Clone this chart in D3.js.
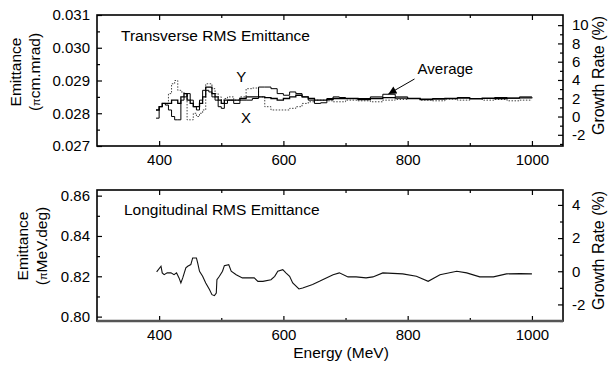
<!DOCTYPE html>
<html>
<head>
<meta charset="utf-8">
<script src="https://cdn.jsdelivr.net/npm/d3@7"></script>
<style>
  body { margin: 0; background: #fff; }
  text { font-family: "Liberation Sans", Arial, sans-serif; fill: #000; }
</style>
</head>
<body>
<div id="chart"></div>
<script>
// Data: transverse panel (shared energy grid for X, Y and Average)
var topEnergy = [395, 400, 405, 410, 415, 420, 425, 430, 435, 440, 445, 450, 455, 460, 465, 470, 475, 480, 485, 490,
  495, 500, 505, 510, 515, 520, 530, 540, 550, 560, 570, 580, 590, 600, 610, 620, 630, 640, 650, 660,
  670, 680, 690, 700, 720, 740, 760, 780, 800, 820, 840, 860, 880, 900, 920, 940, 960, 980, 1000];

var emitX = [0.02785, 0.02820, 0.02830, 0.02825, 0.02810, 0.02790, 0.02780, 0.02780, 0.02840, 0.02850,
  0.02860, 0.02840, 0.02820, 0.02810, 0.02840, 0.02870, 0.02870, 0.02865, 0.02850, 0.02840,
  0.02820, 0.02815, 0.02830, 0.02840, 0.02840, 0.02830, 0.02840, 0.02840, 0.02845, 0.02880,
  0.02880, 0.02875, 0.02860, 0.02855, 0.02865, 0.02860, 0.02850, 0.02840, 0.02830, 0.02832,
  0.02845, 0.02850, 0.02848, 0.02845, 0.02845, 0.02850, 0.02858, 0.02850, 0.02845, 0.02843,
  0.02845, 0.02845, 0.02848, 0.02845, 0.02845, 0.02848, 0.02846, 0.02850, 0.02850];

var emitY = [0.02810, 0.02820, 0.02830, 0.02830, 0.02860, 0.02890, 0.02900, 0.02870, 0.02865, 0.02860,
  0.02780, 0.02780, 0.02800, 0.02790, 0.02800, 0.02810, 0.02890, 0.02890, 0.02875, 0.02860,
  0.02850, 0.02840, 0.02845, 0.02850, 0.02850, 0.02840, 0.02850, 0.02875, 0.02877, 0.02850,
  0.02820, 0.02810, 0.02810, 0.02810, 0.02815, 0.02820, 0.02830, 0.02835, 0.02840, 0.02840,
  0.02838, 0.02835, 0.02835, 0.02840, 0.02838, 0.02835, 0.02840, 0.02842, 0.02845, 0.02840,
  0.02838, 0.02843, 0.02840, 0.02845, 0.02840, 0.02842, 0.02838, 0.02840, 0.02840];

var emitAvg = [0.02810, 0.02820, 0.02830, 0.02830, 0.02830, 0.02840, 0.02840, 0.02830, 0.02850, 0.02860,
  0.02840, 0.02830, 0.02820, 0.02820, 0.02830, 0.02850, 0.02880, 0.02880, 0.02860, 0.02850,
  0.02840, 0.02830, 0.02840, 0.02840, 0.02840, 0.02840, 0.02845, 0.02850, 0.02850, 0.02850,
  0.02848, 0.02845, 0.02840, 0.02845, 0.02850, 0.02855, 0.02850, 0.02845, 0.02840, 0.02840,
  0.02842, 0.02845, 0.02845, 0.02845, 0.02842, 0.02845, 0.02848, 0.02846, 0.02845, 0.02842,
  0.02843, 0.02845, 0.02846, 0.02844, 0.02846, 0.02845, 0.02846, 0.02847, 0.02846];

// Data: longitudinal panel
var longEnergy = [396, 403, 405, 408, 413, 419, 424, 428, 432, 435, 438, 443, 446, 451, 454, 460, 462, 465, 470, 475,
  481, 485, 489, 492, 493, 497, 502, 505, 512, 516, 524, 534, 545, 553, 559, 567, 580, 586, 591, 599,
  604, 610, 615, 625, 631, 647, 658, 669, 680, 690, 704, 717, 733, 744, 760, 792, 814, 833, 852, 879,
  895, 916, 938, 959, 981, 1000];
var longEmit = [0.8222, 0.8250, 0.8217, 0.8208, 0.8217, 0.8217, 0.8208, 0.8217, 0.8192, 0.8167,
  0.8192, 0.8242, 0.8250, 0.8258, 0.8291, 0.8291, 0.8266, 0.8225, 0.8200, 0.8167,
  0.8134, 0.8109, 0.8104, 0.8117, 0.8183, 0.8200, 0.8225, 0.8253, 0.8258, 0.8225,
  0.8208, 0.8192, 0.8192, 0.8192, 0.8175, 0.8175, 0.8183, 0.8200, 0.8225, 0.8233,
  0.8217, 0.8200, 0.8167, 0.8137, 0.8142, 0.8159, 0.8175, 0.8192, 0.8208, 0.8217,
  0.8197, 0.8197, 0.8192, 0.8197, 0.8217, 0.8212, 0.8200, 0.8175, 0.8208, 0.8225,
  0.8217, 0.8197, 0.8197, 0.8212, 0.8213, 0.8212];

// Tick values
var energyTicks = [400, 600, 800, 1000];
var energyMinor = [500, 700, 900];
var transTicks = [0.027, 0.028, 0.029, 0.030, 0.031];
var transMinor = [0.0275, 0.0285, 0.0295, 0.0305];
var longTicks = [0.80, 0.82, 0.84, 0.86];
var longMinor = [0.81, 0.83, 0.85];
var transGrowthTicks = [-2, 0, 2, 4, 6, 8, 10];
var transGrowthMinor = [-3, -1, 1, 3, 5, 7, 9];
var longGrowthTicks = [-2, 0, 2, 4];
var longGrowthMinor = [-3, -1, 1, 3];

// reference emittance for the growth rate axes
var transRef = 0.0279;
var longRef = 0.8225;

// Chart layout
var width = 608;
var height = 368;
var left = 97, right = 563;
var fontStack = "'Liberation Sans', Arial, sans-serif";

var svg = d3.select("#chart").append("svg")
  .attr("width", width)
  .attr("height", height);

var xScale = d3.scaleLinear().domain([300, 1050]).range([left, right]);

// plain integer labels with an ascii minus, like the original plot
function plainInt(d) { return String(d); }

// draws the frame with inward ticks on all four sides
function drawPanel(top, bottom, yScale, yTicks, yMinor, yFmt, gScale, gTicks, gMinor) {
  var g = svg.append("g");

  // x axis at the bottom
  g.append("g").attr("transform", "translate(0," + bottom + ")")
    .call(d3.axisBottom(xScale).tickValues(energyTicks).tickFormat(plainInt)
      .tickSizeInner(-5).tickSizeOuter(0).tickPadding(8));
  g.append("g").attr("transform", "translate(0," + bottom + ")")
    .call(d3.axisBottom(xScale).tickValues(energyMinor).tickSize(-3).tickFormat(""));
  // x ticks at the top, no labels
  g.append("g").attr("transform", "translate(0," + top + ")")
    .call(d3.axisTop(xScale).tickValues(energyTicks).tickSize(-5).tickFormat(""));
  g.append("g").attr("transform", "translate(0," + top + ")")
    .call(d3.axisTop(xScale).tickValues(energyMinor).tickSize(-3).tickFormat(""));

  // left emittance axis
  g.append("g").attr("transform", "translate(" + left + ",0)")
    .call(d3.axisLeft(yScale).tickValues(yTicks).tickFormat(d3.format(yFmt))
      .tickSizeInner(-5).tickSizeOuter(0).tickPadding(7));
  g.append("g").attr("transform", "translate(" + left + ",0)")
    .call(d3.axisLeft(yScale).tickValues(yMinor).tickSize(-3).tickFormat(""));

  // right growth rate axis
  g.append("g").attr("transform", "translate(" + right + ",0)")
    .call(d3.axisRight(gScale).tickValues(gTicks).tickFormat(plainInt)
      .tickSizeInner(-5).tickSizeOuter(0).tickPadding(9));
  g.append("g").attr("transform", "translate(" + right + ",0)")
    .call(d3.axisRight(gScale).tickValues(gMinor).tickSize(-3).tickFormat(""));

  g.selectAll(".domain").remove();
  g.selectAll(".tick line").attr("stroke", "#000").attr("stroke-width", 1.2);
  g.selectAll(".tick text").attr("font-size", 15).attr("font-family", fontStack).attr("fill", "#000");

  // frame
  g.append("rect")
    .attr("x", left).attr("y", top)
    .attr("width", right - left).attr("height", bottom - top)
    .attr("fill", "none").attr("stroke", "#000").attr("stroke-width", 1.6);
  return g;
}

// A) Transverse panel
var transTop = 15, transBottom = 146;
var yTrans = d3.scaleLinear().domain([0.027, 0.031]).range([transBottom, transTop]);
var gTrans = d3.scaleLinear()
  .domain([(0.027 / transRef - 1) * 100, (0.031 / transRef - 1) * 100])
  .range([transBottom, transTop]);
drawPanel(transTop, transBottom, yTrans, transTicks, transMinor, ".3f", gTrans, transGrowthTicks, transGrowthMinor);

function stepLine(values, yScale) {
  return d3.line()
    .x(function(d, i) { return xScale(topEnergy[i]); })
    .y(function(d) { return yScale(d); })
    .curve(d3.curveStepAfter)(values);
}

svg.append("path").attr("d", stepLine(emitY, yTrans))
  .attr("fill", "none").attr("stroke", "#444").attr("stroke-width", 1)
  .attr("stroke-dasharray", "1.5,1.5");
svg.append("path").attr("d", stepLine(emitX, yTrans))
  .attr("fill", "none").attr("stroke", "#000").attr("stroke-width", 1);
svg.append("path").attr("d", stepLine(emitAvg, yTrans))
  .attr("fill", "none").attr("stroke", "#000").attr("stroke-width", 1.3);

svg.append("text").attr("x", left + 24).attr("y", transTop + 26)
  .attr("font-size", 15.5).text("Transverse RMS Emittance");
svg.append("text").attr("x", xScale(532)).attr("y", yTrans(0.028954))
  .attr("font-size", 15).attr("text-anchor", "middle").text("Y");
svg.append("text").attr("x", xScale(540)).attr("y", yTrans(0.027702))
  .attr("font-size", 15).attr("text-anchor", "middle").text("X");
svg.append("text").attr("x", xScale(816)).attr("y", yTrans(0.0292))
  .attr("font-size", 15).text("Average");

// annotation arrow pointing at the average curve
svg.append("defs").append("marker")
  .attr("id", "head").attr("viewBox", "0 0 10 10")
  .attr("refX", 10).attr("refY", 5)
  .attr("markerWidth", 10).attr("markerHeight", 8)
  .attr("markerUnits", "userSpaceOnUse")
  .attr("orient", "auto")
  .append("path").attr("d", "M0,0L10,5L0,10Z").attr("fill", "#000");
svg.append("line")
  .attr("x1", xScale(811)).attr("y1", yTrans(0.029046))
  .attr("x2", xScale(769)).attr("y2", yTrans(0.028588))
  .attr("stroke", "#000").attr("stroke-width", 1)
  .attr("marker-end", "url(#head)");

// B) Longitudinal panel
var longTop = 190, longBottom = 321;
var yLong = d3.scaleLinear().domain([longRef * 0.97, longRef * 1.049]).range([longBottom, longTop]);
var gLong = d3.scaleLinear().domain([-3, 4.9]).range([longBottom, longTop]);
drawPanel(longTop, longBottom, yLong, longTicks, longMinor, ".2f", gLong, longGrowthTicks, longGrowthMinor);

// heavier grey baseline under the lower panel
svg.append("line")
  .attr("x1", left).attr("x2", right)
  .attr("y1", longBottom).attr("y2", longBottom)
  .attr("stroke", "#555").attr("stroke-width", 2.5);

var longLine = d3.line()
  .x(function(d, i) { return xScale(longEnergy[i]); })
  .y(function(d) { return yLong(d); });
svg.append("path").attr("d", longLine(longEmit))
  .attr("fill", "none").attr("stroke", "#111").attr("stroke-width", 1.1);

svg.append("text").attr("x", left + 27).attr("y", longTop + 25)
  .attr("font-size", 15.5).text("Longitudinal RMS Emittance");

// Axis titles
function leftTitle(cx, cy, line1, line2) {
  var t = svg.append("g").attr("transform", "translate(" + cx + "," + cy + ")rotate(-90)");
  t.append("text").attr("x", 0).attr("y", 0).attr("text-anchor", "middle")
    .attr("font-size", 15.5).text(line1);
  var l2 = t.append("text").attr("x", 0).attr("y", 19).attr("text-anchor", "middle").attr("font-size", 15.5);
  l2.append("tspan").text("(");
  l2.append("tspan").attr("font-size", 11).text("\u03c0");
  l2.append("tspan").text(line2);
}
leftTitle(21, 72, "Emittance", "cm.mrad)");
leftTitle(28, 246, "Emittance", "MeV.deg)");

svg.append("text")
  .attr("transform", "translate(604," + ((transTop + transBottom) / 2 - 5) + ")rotate(-90)")
  .attr("text-anchor", "middle").attr("font-size", 16).text("Growth Rate (%)");
svg.append("text")
  .attr("transform", "translate(604," + ((longTop + longBottom) / 2 - 5) + ")rotate(-90)")
  .attr("text-anchor", "middle").attr("font-size", 16).text("Growth Rate (%)");

svg.append("text").attr("x", 341).attr("y", 358)
  .attr("text-anchor", "middle").attr("font-size", 15.5).text("Energy (MeV)");
</script>
</body>
</html>
